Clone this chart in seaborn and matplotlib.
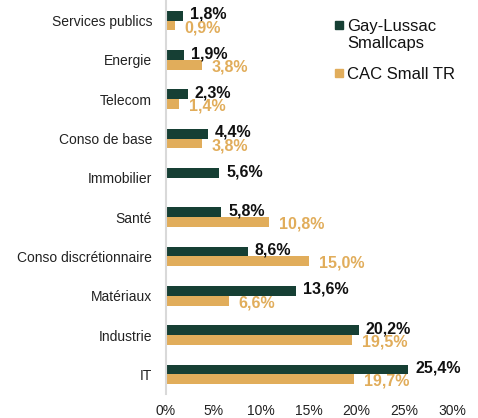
import numpy as np
import pandas as pd
import matplotlib
matplotlib.use("Agg")
import matplotlib.pyplot as plt
from matplotlib.patches import Rectangle
import seaborn as sns

categories = ["Services publics", "Energie", "Telecom", "Conso de base", "Immobilier",
              "Santé", "Conso discrétionnaire", "Matériaux", "Industrie", "IT"]
gay_lussac = [1.8, 1.9, 2.3, 4.4, 5.6, 5.8, 8.6, 13.6, 20.2, 25.4]
cac_small = [0.9, 3.8, 1.4, 3.8, np.nan, 10.8, 15.0, 6.6, 19.5, 19.7]
series_names = ["Gay-Lussac Smallcaps", "CAC Small TR"]
legend_lines = [["Gay-Lussac", "Smallcaps"], ["CAC Small TR"]]
x_ticks = [0, 5, 10, 15, 20, 25, 30]

GREEN = "#163F34"
GOLD = "#E1AD5B"
W, H = 478, 418

sns.set_theme(style="white")
plt.rcParams["font.family"] = ["Liberation Sans", "DejaVu Sans"]

df = pd.DataFrame({
    "cat": categories * 2,
    "val": gay_lussac + cac_small,
    "serie": [series_names[0]] * len(categories) + [series_names[1]] * len(categories),
})
df["val"] = df["val"].fillna(0)

fig = plt.figure(figsize=(W / 100, H / 100), dpi=100)
ax = fig.add_axes([166 / W, 24 / H, (452 - 166) / W, 393 / H])

sns.barplot(data=df, y="cat", x="val", hue="serie", order=categories,
            hue_order=series_names, palette=[GREEN, GOLD], width=0.5,
            orient="h", ax=ax, errorbar=None, saturation=1, legend=False,
            linewidth=0)

def fmt(v):
    return "" if np.isnan(v) else f"{v:.1f}%".replace(".", ",")

anns_gl = ax.bar_label(ax.containers[0], labels=[fmt(v) for v in gay_lussac], padding=5,
                       fontsize=11.5, fontweight="bold", color="#111111")
anns_cac = ax.bar_label(ax.containers[1], labels=[fmt(v) for v in cac_small], padding=7,
                        fontsize=11.5, fontweight="bold", color=GOLD)
for a in anns_gl:
    a.xyann = (a.xyann[0], 1.0)
for a in anns_cac:
    a.xyann = (a.xyann[0], -1.5)

ax.set_xlim(0, 30)
ax.set_xticks(x_ticks)
ax.set_xticklabels([f"{t}%" for t in x_ticks], fontsize=10, color="#222222")
ax.tick_params(axis="y", labelsize=10, labelcolor="#222222", length=0, pad=10)
ax.tick_params(axis="x", length=0, pad=7)
ax.set_xlabel("")
ax.set_ylabel("")
for s in ["top", "right", "bottom"]:
    ax.spines[s].set_visible(False)
ax.spines["left"].set_color("#d9d9d9")
ax.spines["left"].set_linewidth(1.5)
ax.grid(False)

# legend (marker aligned with first text line)
leg_y = [25, 73]
for color, lines, y in zip([GREEN, GOLD], legend_lines, leg_y):
    fig.add_artist(Rectangle((335 / W, 1 - (y + 4) / H), 8 / W, 8 / H,
                             transform=fig.transFigure, color=color))
    for i, line in enumerate(lines):
        fig.text(347 / W, 1 - (y + 17 * i) / H, line, fontsize=12,
                 color="#111111", va="center_baseline", ha="left")

fig.savefig("out.png", dpi=100)
